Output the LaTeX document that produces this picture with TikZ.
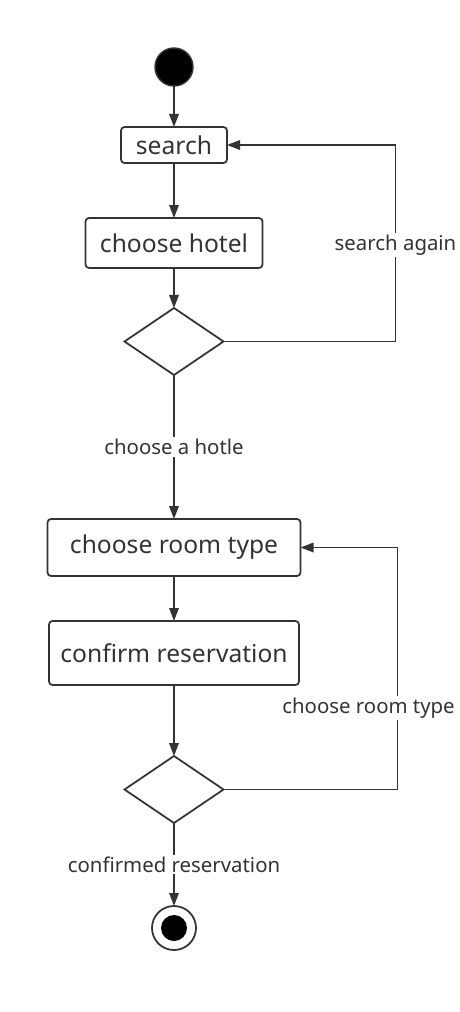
\documentclass[tikz,border=0pt]{standalone}
\usepackage{fontspec}
\setmainfont{Noto Sans}
\usetikzlibrary{positioning, arrows.meta, shapes.geometric}
\definecolor{umlgray}{HTML}{333333}

\begin{document}
\begin{tikzpicture}[
    action/.style={
        draw=umlgray,
        line width=1pt,
        rectangle,
        rounded corners=2pt,
        inner sep=0pt,
        outer sep=0pt,
        text=umlgray,
        font=\fontsize{14}{16}\selectfont
    },
    decision/.style={
        draw=umlgray,
        line width=1pt,
        diamond,
        minimum width=1.98cm,
        minimum height=1.34cm,
        inner sep=0pt,
        outer sep=0pt
    },
    initial/.style={
        circle,
        fill=black,
        draw=umlgray,
        line width=0.8pt,
        minimum size=0.76cm,
        inner sep=0pt,
        outer sep=0pt
    },
    final/.style={
        circle,
        draw=umlgray,
        line width=1pt,
        minimum size=0.88cm,
        inner sep=0pt,
        outer sep=0pt,
        path picture={\fill[black] (path picture bounding box.center) circle (0.26cm);}
    },
    flow/.style={
        -{Triangle[length=2.6mm, width=1.9mm]},
        draw=umlgray,
        line width=1pt
    },
    guard/.style={
        fill=white,
        text=umlgray,
        inner sep=1pt,
        font=\fontsize{11.6}{13}\selectfont
    }
]
    \useasboundingbox (0,0) rectangle (9.18,-20.24);

    % Nodes
    \node[initial] (start) at (3.48,-1.34) {};
    \node[action, minimum width=2.12cm, minimum height=0.72cm, below=0.82cm of start] (search) {search};
    \node[action, minimum width=3.54cm, minimum height=1.0cm, below=1.1cm of search] (hotel) {choose hotel};
    \node[decision, below=0.8cm of hotel] (dec1) {};
    \node[action, minimum width=5.06cm, minimum height=1.14cm, below=2.88cm of dec1] (room) {choose room type};
    \node[action, minimum width=5.0cm, minimum height=1.28cm, below=0.9cm of room] (confirm) {confirm reservation};
    \node[decision, below=1.42cm of confirm] (dec2) {};
    \node[final, below=1.66cm of dec2] (stop) {};

    % Main flow
    \draw[flow] (start) -- (search);
    \draw[flow] (search) -- (hotel);
    \draw[flow] (hotel) -- (dec1);
    \draw[flow] (dec1) -- node[guard, midway] {choose a hotle} (room);
    \draw[flow] (room) -- (confirm);
    \draw[flow] (confirm) -- (dec2);
    \draw[flow] (dec2) -- node[guard, midway] {confirmed reservation} (stop);

    % Loops back
    \draw[flow] (dec1.east) -- ++(3.44,0) |- node[guard, pos=0.245] {search again} (search.east);
    \draw[flow] (dec2.east) -- ++(3.48,0) |- node[guard, pos=0.168, xshift=-0.58cm] {choose room type} (room.east);

\end{tikzpicture}
\end{document}
